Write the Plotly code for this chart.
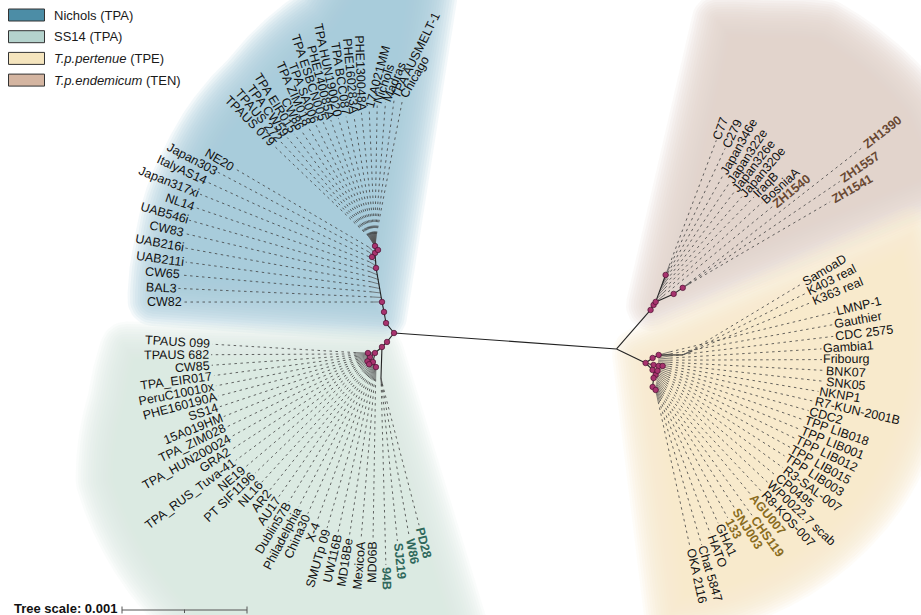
import numpy as np
import plotly.graph_objects as go

# ------------------------------------------------------------------ data
nichols_left = ["CW82", "BAL3", "CW65", "UAB211i", "UAB216i", "CW83",
                "UAB546i", "NL14", "Japan317xi", "ItalyAS14", "Japan303", "NE20"]
nichols_top = ["TPAUS 079", "TPAUS 272", "TPA CW59", "TPA EIR015", "CW86",
               "TPA ZIM018", "TPA SA006", "TPA ESBCN005", "PHE140085A",
               "TPA HUN190020", "TPA BCC087", "PHE160283A", "PHE130048A",
               "17A021MM", "Nichols", "Madras", "TPA AUSMELT-1", "Chicago"]
ss14_main = ["TPAUS 099", "TPAUS 682", "CW85", "TPA_EIR017", "PeruC10010x",
             "PHE160190A", "SS14", "15A019HM", "TPA_ZIM028", "TPA_HUN200024",
             "GRA2", "TPA_RUS_Tuva-41", "NE19", "PT SIF1196", "NL16", "AR2",
             "AU17", "Dublin57B", "Philadelphia", "China30", "X-4", "SMUTp 09",
             "UW116B", "MD18Be", "MexicoA", "MD06B"]
ss14_new = ["94B", "SJ219", "W86", "PD28"]
ten_main = ["C77", "C279", "Japan346e", "Japan322e", "Japan326e", "Japan320e",
            "IraqB", "BosniaA", "ZH1540"]
ten_zh = ["ZH1390", "ZH1557", "ZH1541"]
tpe_samoa = ["SamoaD", "K403 real", "K363 real"]
tpe_main = ["LMNP-1", "Gauthier", "CDC 2575", "Gambia1", "Fribourg", "BNK07",
            "SNK05", "NKNP1", "R7-KUN-2001B", "CDC2", "TPP LIB018", "TPP LIB001",
            "TPP LIB012", "TPP LIB015", "TPP LIB003", "R3-SAL-007", "CP0495",
            "WP0022.7 scab", "R8-KOS-007", "AGU007", "CHS119", "SNJ003", "133",
            "GHA1", "HATO", "Chat 5847", "OKA 2116"]

# newly sequenced strains, printed in bold clade colours
new_ss14 = ss14_new
new_ten = ["ZH1540", "ZH1557", "ZH1541", "ZH1390"]
new_tpe = ["AGU007", "CHS119", "SNJ003", "133"]

# internal branches: (node, parent, length [subst./site], direction [deg])
branches = [
    ("R2", "R", 0.001785, -4.1),
    ("N1", "R", 0.000102, 128.7), ("N2", "N1", 0.000090, 100.3),
    ("N3", "N2", 0.000082, 101.3), ("N4", "N3", 0.000276, 100.0),
    ("N5", "N4", 0.000120, 93.8), ("N6", "N5", 0.000056, 90.0),
    ("N7", "N5", 0.000040, 233.0), ("N8", "N5", 0.000034, 45.0),
    ("S1", "R", 0.000091, -128.0), ("S2", "S1", 0.000057, -135.0),
    ("S3", "S2", 0.000074, -139.4), ("S4", "S3", 0.000051, -141.0),
    ("S5", "S3", 0.000074, -102.5), ("S6", "S5", 0.000047, -59.0),
    ("S7", "S2", 0.000248, -91.8), ("S8", "S3", 0.000056, 180.0),
    ("S9", "S4", 0.000040, -120.0), ("S10", "S5", 0.000035, -150.0),
    ("T1", "R2", 0.000414, 48.9), ("T2", "T1", 0.000047, 59.0),
    ("T3", "T2", 0.000029, 56.0), ("T4", "T3", 0.000230, 69.7),
    ("T5", "T3", 0.000158, 24.0), ("T6", "T5", 0.000087, 33.7),
    ("P1", "R2", 0.000258, -25.8), ("P2", "P1", 0.000069, 35.5),
    ("P3", "P2", 0.000054, 26.6), ("P4", "P1", 0.000066, -14.0),
    ("P5", "P4", 0.000041, -11.0), ("P6", "P5", 0.000032, 0.0),
    ("P7", "P1", 0.000079, -45.0), ("P8", "P7", 0.000047, -59.0),
    ("P9", "P8", 0.000029, -124.0), ("P10", "P9", 0.000072, -96.0),
    ("P11", "P10", 0.000034, -45.0), ("P12", "P3", 0.000192, 0.0),
    ("P13", "P7", 0.000040, -10.0),
]

legend_labels = ["Nichols (TPA)", "SS14 (TPA)",
                 "<i>T.p.pertenue</i> (TPE)", "<i>T.p.endemicum</i> (TEN)"]
tree_scale = 0.001

# ------------------------------------------------------------------ layout
W, H = 921, 615
PX_PER_UNIT = 125 / tree_scale          # drawing units per subst./site
ROOT = np.array([394.0, 333.0])
FONT = "Liberation Sans, Arial, Helvetica, sans-serif"
LABEL_SIZE = 12.5

COL_NICHOLS = (164, 203, 215)
COL_SS14 = (216, 231, 228)
COL_TPE = (247, 235, 207)
COL_TEN = (224, 211, 202)
LEGEND_FILL = ["rgb(76,141,166)", "rgb(181,211,205)", "rgb(245,229,190)", "rgb(212,181,161)"]
NEW_COLOUR = {"ss14": "rgb(47,104,92)", "ten": "rgb(104,72,50)", "tpe": "rgb(138,108,30)"}


def u(deg):
    a = np.radians(deg)
    return np.array([np.cos(a), -np.sin(a)])


pos = {"R": ROOT}
for node, parent, length, ang in branches:
    pos[node] = pos[parent] + u(ang) * length * PX_PER_UNIT

# label fans: label arc centre, angular span, label radii, attachment nodes,
# optional text-direction control points (index, angle)
groups = [
    dict(names=nichols_left, centre=(378, 300), span=(180.6, 137.5),
         radii=[195, 200, 198, 196, 200, 204, 205, 205, 207, 207, 205, 195],
         attach=("N3", "N5"), tip=9, kind=None),
    dict(names=nichols_top, centre=(378, 300), span=(124, 83),
         radii=[186] * 12 + [188, 191, 195, 198, 200, 203],
         attach=("N6", "N6"), tip=12, kind=None,
         text_ang=([0, 4, 5, 9, 12, 13, 17], [135, 118, 114, 102, 92, 75, 60])),
    dict(names=ss14_main, centre=(378, 350), span=(178, 268.5),
         radii=[166, 167, 167, 166, 166, 166, 168, 168, 169, 170, 178, 180, 178,
                174, 176, 177, 177, 176, 176, 178, 182, 185, 187, 189, 190, 190],
         attach=("S8", "S6"), tip=12, kind="ss14"),
    dict(names=ss14_new, centre=(378, 350), span=(272.1, 283.2),
         radii=[215, 192, 189, 180], attach=("S7", "S7"), tip=6, kind="ss14"),
    dict(names=ten_main, centre=(655, 300), span=(69, 38.5),
         radii=[171, 167, 143, 139, 134, 135, 143, 145, 150],
         attach=("T4", "T3"), tip=10, kind="ten"),
    dict(names=ten_zh, centre=(690, 285), span=(38.6, 30.7),
         radii=[221, 182, 163], attach=("T6", "T6"), tip=8, kind="ten"),
    dict(names=tpe_samoa, centre=(650, 362), span=(27.3, 20.3),
         radii=[172, 171, 173], attach=("P12", "P12"), tip=8, kind="tpe"),
    dict(names=tpe_main, centre=(650, 362), span=(15.1, -77.8),
         radii=[192, 187, 185, 172, 172, 175, 176, 171, 168, 166, 164, 164, 164,
                164, 164, 170, 170, 168, 172, 166, 184, 168, 174, 175, 182, 190, 189],
         attach=("P3", "P11"), tip=12, kind="tpe"),
]

# Arial / Liberation Sans advance widths (1/1000 em)
CHAR_W = {c: 556 for c in "0123456789"}
CHAR_W.update(dict(A=667, B=667, C=722, D=722, E=667, F=611, G=778, H=722, I=278,
                   J=500, K=667, L=556, M=833, N=722, O=778, P=667, Q=778, R=722,
                   S=667, T=611, U=722, V=667, W=944, X=667, Y=667, Z=611))
CHAR_W.update(dict(a=556, b=556, c=500, d=556, e=556, f=278, g=556, h=556, i=222,
                   j=222, k=500, l=222, m=833, n=556, o=556, p=556, q=556, r=333,
                   s=500, t=278, u=556, v=500, w=722, x=500, y=500, z=500))
CHAR_W.update({" ": 278, "-": 333, "_": 556, ".": 278, ":": 278})


def text_width(s, size, bold=False):
    w = sum(CHAR_W.get(c, 556) for c in s) / 1000.0 * size
    return w * (1.07 if bold else 1.0)


def offset_polygon(P, t):
    """Shrink (t > 0) or grow (t < 0, round joins) a closed polygon."""
    n = len(P)
    area = 0.5 * np.sum(P[:, 0] * np.roll(P[:, 1], -1) - np.roll(P[:, 0], -1) * P[:, 1])
    e = np.roll(P, -1, axis=0) - P
    e = e / np.hypot(e[:, 0], e[:, 1])[:, None]
    if area > 0:
        nin = np.column_stack([-e[:, 1], e[:, 0]])
    else:
        nin = np.column_stack([e[:, 1], -e[:, 0]])
    out = []
    for i in range(n):
        n1, n2 = nin[i - 1], nin[i]
        cross = e[i - 1, 0] * e[i, 1] - e[i - 1, 1] * e[i, 0]
        convex = (cross > 0) == (area > 0)
        miter = (n1 + n2) / max(1 + n1 @ n2, 0.25)
        if t >= 0 or not convex:
            out.append(P[i] + t * miter)
        else:
            d = -t
            a1 = np.arctan2(-n1[1], -n1[0])
            a2 = np.arctan2(-n2[1], -n2[0])
            da = (a2 - a1 + np.pi) % (2 * np.pi) - np.pi
            k = max(2, int(abs(da) / 0.15) + 1)
            for a in np.linspace(a1, a1 + da, k):
                out.append(P[i] + d * np.array([np.cos(a), np.sin(a)]))
    return np.array(out)


fig = go.Figure()

# ---- soft clade wedges (stacked translucent offsets give the blurred rim)
wedges = [
    dict(hub=(381, 316), a0=81, a1=176, ca=[81, 95, 102, 119, 140, 162, 176],
         cr=[390, 350, 310, 274, 250, 232, 228], rgb=COL_NICHOLS),
    dict(hub=(378, 352), a0=179, a1=287, ca=[179, 190, 205, 226, 250, 287],
         cr=[252, 268, 305, 322, 342, 352], rgb=COL_SS14),
    dict(hub=(652, 305), a0=22, a1=77, ca=[22, 37, 58, 68, 77],
         cr=[320, 335, 330, 305, 292], rgb=COL_TEN),
    dict(hub=(638, 354), a0=24, a1=-83, ca=[-83, -60, -30, 0, 24],
         cr=[262, 268, 280, 290, 300], rgb=COL_TPE),
]
N_LAYERS = 22
BLUR = 26
alpha = 1 - 0.04 ** (1.0 / N_LAYERS)
for wd in wedges:
    order = np.argsort(wd["ca"])
    ca = np.array(wd["ca"], float)[order]
    cr = np.array(wd["cr"], float)[order]
    hub = np.array(wd["hub"], float)
    angs = np.linspace(wd["a0"], wd["a1"], 150)
    rr = np.interp(angs, ca, cr)
    arc = hub + rr[:, None] * np.column_stack([np.cos(np.radians(angs)),
                                               -np.sin(np.radians(angs))])
    base = np.vstack([hub[None, :], arc])
    r, g, b = wd["rgb"]
    for t in np.linspace(BLUR, -BLUR, N_LAYERS):
        poly = offset_polygon(base, t)
        xs = np.append(poly[:, 0], poly[0, 0])
        ys = np.append(poly[:, 1], poly[0, 1])
        fig.add_trace(go.Scatter(x=xs, y=ys, mode="lines", fill="toself",
                                 fillcolor=f"rgba({r},{g},{b},{alpha:.3f})",
                                 line=dict(width=0), hoverinfo="skip",
                                 showlegend=False))

# ---- leaves: tip branches, dashed leaders, labels
lead_x, lead_y, tipb_x, tipb_y = [], [], [], []
annotations = []
for grp in groups:
    n = len(grp["names"])
    angs = np.linspace(grp["span"][0], grp["span"][1], n)
    c = np.array(grp["centre"], float)
    a0, a1 = pos[grp["attach"][0]], pos[grp["attach"][1]]
    t_ang = None
    if "text_ang" in grp:
        t_ang = np.interp(np.arange(n), grp["text_ang"][0], grp["text_ang"][1])
    for i, name in enumerate(grp["names"]):
        f = i / (n - 1) if n > 1 else 0.0
        att = a0 + (a1 - a0) * f
        tip = att + u(angs[i]) * grp["tip"]
        anchor = c + u(angs[i]) * grp["radii"][i]
        tipb_x += [att[0], tip[0], None]
        tipb_y += [att[1], tip[1], None]
        lead_x += [tip[0], anchor[0], None]
        lead_y += [tip[1], anchor[1], None]

        if t_ang is None:
            d = anchor - tip
            d = d / np.hypot(*d)
            phi = np.degrees(np.arctan2(-d[1], d[0]))
        else:
            phi = t_ang[i]
            d = u(phi)
        is_new = name in new_ss14 or name in new_ten or name in new_tpe
        w = text_width(name, LABEL_SIZE, is_new)
        ctr = anchor + d * (1.5 + w / 2)
        if np.cos(np.radians(phi)) >= 0:
            tangle = -phi
        else:
            tangle = -(phi + 180)
        tangle = (tangle + 180) % 360 - 180
        colour = NEW_COLOUR[grp["kind"]] if is_new else "#111111"
        text = f"<b>{name}</b>" if is_new else name
        annotations.append(dict(x=ctr[0], y=ctr[1], xref="x", yref="y",
                                text=text, showarrow=False, textangle=tangle,
                                xanchor="center", yanchor="middle",
                                font=dict(family=FONT, size=LABEL_SIZE, color=colour)))

fig.add_trace(go.Scatter(x=lead_x, y=lead_y, mode="lines",
                         line=dict(color="#404040", width=0.8, dash="2.5px,3.5px"),
                         hoverinfo="skip", showlegend=False))
fig.add_trace(go.Scatter(x=tipb_x, y=tipb_y, mode="lines",
                         line=dict(color="#555555", width=0.7),
                         hoverinfo="skip", showlegend=False))

# ---- internal branches and nodes
bx, by = [], []
for node, parent, length, ang in branches:
    bx += [pos[parent][0], pos[node][0], None]
    by += [pos[parent][1], pos[node][1], None]
fig.add_trace(go.Scatter(x=bx, y=by, mode="lines",
                         line=dict(color="#222222", width=1.1),
                         hoverinfo="skip", showlegend=False))
dot_nodes = ["R"] + [b[0] for b in branches if b[0] not in ("R2", "S7", "P12")]
fig.add_trace(go.Scatter(x=[pos[k][0] for k in dot_nodes],
                         y=[pos[k][1] for k in dot_nodes], mode="markers",
                         marker=dict(size=5.5, color="#a8336e",
                                     line=dict(color="#4a1030", width=0.7)),
                         hoverinfo="skip", showlegend=False))

# ---- legend
shapes = []
for k, (lab, fill) in enumerate(zip(legend_labels, LEGEND_FILL)):
    yc = 15 + k * 21.7
    shapes.append(dict(type="rect", xref="x", yref="y", x0=8.5, x1=44.5,
                       y0=yc - 6, y1=yc + 6, fillcolor=fill,
                       line=dict(color="#333333", width=1)))
    annotations.append(dict(x=52, y=yc, xref="x", yref="y", text=lab,
                            showarrow=False, xanchor="left", yanchor="middle",
                            font=dict(family=FONT, size=13, color="#1a1a1a")))

# ---- tree scale bar
bar_x0, bar_y = 122, 610
bar_x1 = bar_x0 + tree_scale * PX_PER_UNIT
bar_mid = (bar_x0 + bar_x1) / 2
for x0, y0, x1, y1 in [(bar_x0, bar_y, bar_x1, bar_y),
                       (bar_x0, bar_y - 3.5, bar_x0, bar_y + 3.5),
                       (bar_x1, bar_y - 3.5, bar_x1, bar_y + 3.5),
                       (bar_mid, bar_y - 0.5, bar_mid, bar_y + 3)]:
    shapes.append(dict(type="line", xref="x", yref="y", x0=x0, y0=y0, x1=x1, y1=y1,
                       line=dict(color="#555555", width=1)))
annotations.append(dict(x=12, y=608, xref="x", yref="y",
                        text=f"<b>Tree scale: {tree_scale}</b>", showarrow=False,
                        xanchor="left", yanchor="middle",
                        font=dict(family=FONT, size=13, color="#111111")))

fig.update_layout(
    width=W, height=H, margin=dict(l=0, r=0, t=0, b=0),
    paper_bgcolor="white", plot_bgcolor="white",
    xaxis=dict(range=[0, W], visible=False, fixedrange=True),
    yaxis=dict(range=[H, 0], visible=False, fixedrange=True),
    shapes=shapes, annotations=annotations, showlegend=False,
)

fig.write_html("out.html")
